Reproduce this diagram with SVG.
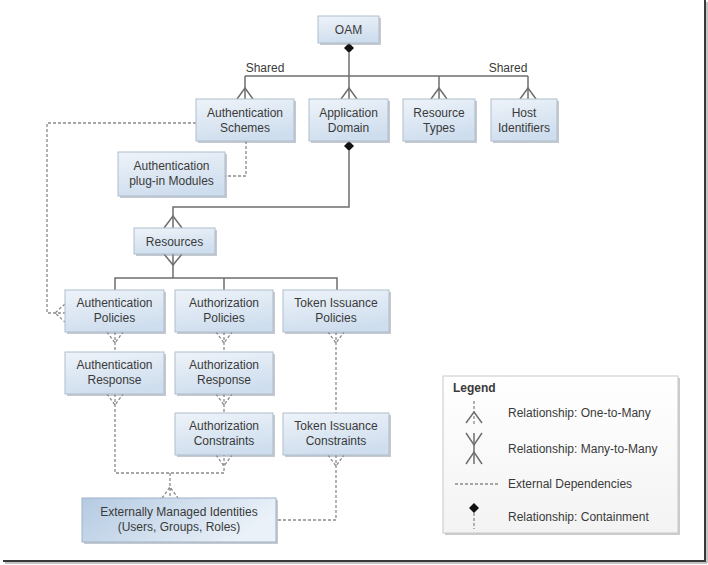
<svg xmlns="http://www.w3.org/2000/svg" width="708" height="565" viewBox="0 0 708 565">
<defs>
<linearGradient id="gBox" x1="0" y1="0" x2="0.3" y2="1">
<stop offset="0" stop-color="#eef3f9"/>
<stop offset="1" stop-color="#cfdeee"/>
</linearGradient>
<linearGradient id="gExt" x1="0" y1="0" x2="1" y2="0.3">
<stop offset="0" stop-color="#b4cae2"/>
<stop offset="1" stop-color="#eaf1f8"/>
</linearGradient>
<linearGradient id="gLegend" x1="0" y1="0" x2="0" y2="1">
<stop offset="0" stop-color="#ffffff"/>
<stop offset="1" stop-color="#f3f3f3"/>
</linearGradient>
</defs>
<style>
.box{fill:url(#gBox);stroke:#aebdcd;stroke-width:1}
.ext{fill:url(#gExt);stroke:#9fb2c7;stroke-width:1}
.shadow{fill:#7f8a96;opacity:0.45}
.t{font-family:"Liberation Sans",Arial,sans-serif;font-size:12px;fill:#3a3a3a;text-anchor:middle}
.lt{font-family:"Liberation Sans",Arial,sans-serif;font-size:12px;fill:#3a3a3a}
.solid{fill:none;stroke:#6e6e6e;stroke-width:1.5}
.dash{fill:none;stroke:#8a8a8a;stroke-width:1.3;stroke-dasharray:3 2}
.dia{fill:#111}
</style>
<rect x="0" y="0" width="708" height="565" fill="#ffffff"/>
<!-- frame shadow -->
<line x1="705" y1="0" x2="705" y2="561" stroke="#3a3a3a" stroke-width="2"/>
<line x1="3" y1="561" x2="706" y2="561" stroke="#3a3a3a" stroke-width="2"/>
<line x1="707" y1="2" x2="707" y2="563" stroke="#b0b0b0" stroke-width="1.5"/>
<line x1="5" y1="563" x2="707" y2="563" stroke="#b0b0b0" stroke-width="1.5"/>

<g id="connectors">
<!-- OAM containment -->
<line class="solid" x1="349" y1="53" x2="349" y2="99"/>
<polygon class="dia" points="349,43 354,48 349,53 344,48"/>
<line class="solid" x1="245" y1="76" x2="528" y2="76"/>
<line class="solid" x1="245" y1="76" x2="245" y2="99"/>
<line class="solid" x1="439" y1="76" x2="439" y2="99"/>
<line class="solid" x1="528" y1="76" x2="528" y2="99"/>
<path class="solid" d="M237,99 L245,88 L253,99 M341,99 L349,88 L357,99 M431,99 L439,88 L447,99 M520,99 L528,88 L536,99"/>
<!-- App Domain to Resources -->
<polygon class="dia" points="349,141 354,146 349,151 344,146"/>
<path class="solid" d="M349,151 L349,207 L173,207 L173,228"/>
<path class="solid" d="M164,228 L173,216 L182,228"/>
<!-- Resources to policies -->
<path class="solid" d="M164,254 L173,265 L182,254"/>
<path class="solid" d="M173,254 L173,278 M115,290 L115,278 L337,278 L337,290 M224,278 L224,290"/>
<!-- Auth Schemes dependencies -->
<path class="dash" d="M196,123 L47,123 L47,313 L65,313"/>
<path class="dash" d="M65,304 L55,313 L65,322"/>
<path class="dash" d="M246,141 L246,176 L225,176"/>
<!-- policies -> responses -->
<path class="dash" d="M107,332 L115,343 L123,332 M115,332 L115,352"/>
<path class="dash" d="M216,332 L224,343 L232,332 M224,332 L224,352"/>
<path class="dash" d="M328,332 L336,343 L344,332 M336,332 L336,413"/>
<!-- responses -->
<path class="dash" d="M107,394 L115,405 L123,394 M115,394 L115,473 L224,473 L224,455"/>
<path class="dash" d="M216,394 L224,405 L232,394 M224,394 L224,413"/>
<path class="dash" d="M216,455 L224,466 L232,455"/>
<path class="dash" d="M328,455 L336,466 L344,455 M336,455 L336,520 L276,520"/>
<path class="dash" d="M170,473 L170,498 M162,498 L170,487 L178,498"/>
</g>

<g id="labels">
<text class="t" x="265" y="72">Shared</text>
<text class="t" x="508" y="72">Shared</text>
</g>

<g id="oam"><rect class="shadow" x="320" y="18" width="61" height="27"/><rect class="box" x="318" y="16" width="61" height="27"/><text class="t" x="348.5" y="33.5">OAM</text></g>

<g id="auth-schemes"><rect class="shadow" x="198" y="101" width="98" height="42"/><rect class="box" x="196" y="99" width="98" height="42"/><text class="t" x="245" y="117">Authentication</text><text class="t" x="245" y="132">Schemes</text></g>
<g id="app-domain"><rect class="shadow" x="311" y="101" width="79" height="42"/><rect class="box" x="309" y="99" width="79" height="42"/><text class="t" x="348.5" y="117">Application</text><text class="t" x="348.5" y="132">Domain</text></g>
<g id="resource-types"><rect class="shadow" x="405" y="101" width="72" height="42"/><rect class="box" x="403" y="99" width="72" height="42"/><text class="t" x="439" y="117">Resource</text><text class="t" x="439" y="132">Types</text></g>
<g id="host-identifiers"><rect class="shadow" x="493" y="101" width="66" height="42"/><rect class="box" x="491" y="99" width="66" height="42"/><text class="t" x="524" y="117">Host</text><text class="t" x="524" y="132">Identifiers</text></g>

<g id="auth-plugin"><rect class="shadow" x="120" y="154" width="107" height="44"/><rect class="box" x="118" y="152" width="107" height="44"/><text class="t" x="171.5" y="170">Authentication</text><text class="t" x="171.5" y="185">plug-in Modules</text></g>

<g id="resources"><rect class="shadow" x="136" y="230" width="81" height="26"/><rect class="box" x="134" y="228" width="81" height="26"/><text class="t" x="174.5" y="245.5">Resources</text></g>

<g id="authn-policies"><rect class="shadow" x="67" y="292" width="99" height="42"/><rect class="box" x="65" y="290" width="99" height="42"/><text class="t" x="114.5" y="307">Authentication</text><text class="t" x="114.5" y="322">Policies</text></g>
<g id="authz-policies"><rect class="shadow" x="177" y="292" width="98" height="42"/><rect class="box" x="175" y="290" width="98" height="42"/><text class="t" x="224" y="307">Authorization</text><text class="t" x="224" y="322">Policies</text></g>
<g id="token-policies"><rect class="shadow" x="285" y="292" width="106" height="42"/><rect class="box" x="283" y="290" width="106" height="42"/><text class="t" x="336" y="307">Token Issuance</text><text class="t" x="336" y="322">Policies</text></g>

<g id="authn-response"><rect class="shadow" x="67" y="354" width="99" height="42"/><rect class="box" x="65" y="352" width="99" height="42"/><text class="t" x="114.5" y="369">Authentication</text><text class="t" x="114.5" y="384">Response</text></g>
<g id="authz-response"><rect class="shadow" x="177" y="354" width="98" height="42"/><rect class="box" x="175" y="352" width="98" height="42"/><text class="t" x="224" y="369">Authorization</text><text class="t" x="224" y="384">Response</text></g>

<g id="authz-constraints"><rect class="shadow" x="177" y="415" width="98" height="42"/><rect class="box" x="175" y="413" width="98" height="42"/><text class="t" x="224" y="430">Authorization</text><text class="t" x="224" y="445">Constraints</text></g>
<g id="token-constraints"><rect class="shadow" x="285" y="415" width="106" height="42"/><rect class="box" x="283" y="413" width="106" height="42"/><text class="t" x="336" y="430">Token Issuance</text><text class="t" x="336" y="445">Constraints</text></g>

<g id="ext-identities"><rect class="shadow" x="84" y="500" width="194" height="44"/><rect class="ext" x="82" y="498" width="194" height="44"/><text class="t" x="179" y="516">Externally Managed Identities</text><text class="t" x="179" y="531">(Users, Groups, Roles)</text></g>

<g id="legend">
<rect x="445" y="378" width="235" height="157" fill="#9a9a9a" opacity="0.5"/>
<rect x="443" y="376" width="235" height="157" fill="url(#gLegend)" stroke="#c8c8c8" stroke-width="1"/>
<text class="lt" x="453" y="392" font-weight="bold" fill="#222">Legend</text>
<line class="dash" x1="474" y1="401" x2="474" y2="424"/>
<path class="solid" d="M466,423 L474,412 L482,423" stroke-width="1.2"/>
<text class="lt" x="508" y="417">Relationship: One-to-Many</text>
<line class="solid" x1="474" y1="433" x2="474" y2="464" stroke-width="1.2"/>
<path class="solid" d="M466,433 L474,445 L482,433 M466,464 L474,452 L482,464" stroke-width="1.2"/>
<text class="lt" x="508" y="453">Relationship: Many-to-Many</text>
<line class="dash" x1="455" y1="484" x2="498" y2="484"/>
<text class="lt" x="508" y="488">External Dependencies</text>
<polygon class="dia" points="474,503 479,508 474,513 469,508"/>
<line class="dash" x1="474" y1="513" x2="474" y2="529"/>
<text class="lt" x="508" y="521">Relationship: Containment</text>
</g>
</svg>
